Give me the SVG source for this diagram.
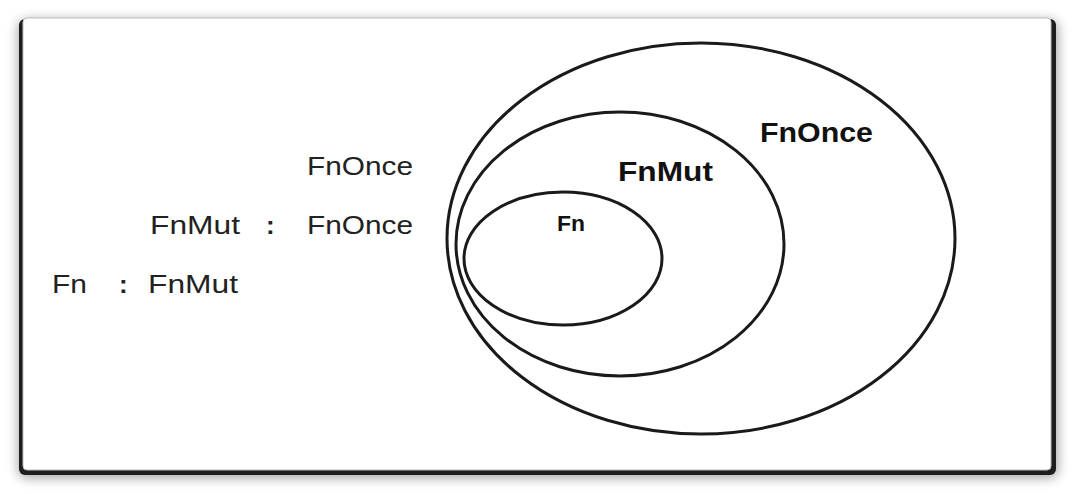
<svg xmlns="http://www.w3.org/2000/svg" width="1074" height="494" viewBox="0 0 1074 494">
  <defs>
    <filter id="sh" x="-5%" y="-10%" width="110%" height="120%">
      <feGaussianBlur stdDeviation="6"/>
    </filter>
    <style>
      .set { fill: none; stroke: #1a1a1a; stroke-width: 3; }
      .lbl { font-family: "Liberation Sans", Arial, sans-serif; font-size: 26px; fill: #222; }
      .bold { font-family: "Liberation Sans", Arial, sans-serif; font-weight: bold; fill: #111; }
      .colon { font-family: "Liberation Sans", Arial, sans-serif; font-weight: bold; font-size: 26px; fill: #222; }
    </style>
  </defs>
  <rect width="1074" height="494" fill="#ffffff"/>
  <g id="frame">
    <rect x="18" y="20" width="1040" height="458" rx="8" fill="#000" opacity="0.35" filter="url(#sh)"/>
    <rect x="19" y="19" width="1037" height="456" rx="6" fill="#1e1e1e"/>
    <rect x="23" y="18" width="1028" height="452" rx="4" fill="#ffffff" stroke="#bdbdbd" stroke-width="1"/>
  </g>
  <g id="legend">
    <text class="lbl" x="307" y="175" textLength="106" lengthAdjust="spacingAndGlyphs">FnOnce</text>
    <text class="lbl" x="150" y="234" textLength="90" lengthAdjust="spacingAndGlyphs">FnMut</text>
    <text class="colon" x="266" y="234">:</text>
    <text class="lbl" x="307" y="234" textLength="106" lengthAdjust="spacingAndGlyphs">FnOnce</text>
    <text class="lbl" x="52" y="293" textLength="35" lengthAdjust="spacingAndGlyphs">Fn</text>
    <text class="colon" x="119" y="293">:</text>
    <text class="lbl" x="148" y="293" textLength="90" lengthAdjust="spacingAndGlyphs">FnMut</text>
  </g>
  <g id="fnonce">
    <ellipse class="set" cx="701" cy="238.5" rx="254" ry="195.5"/>
    <text class="bold" x="760" y="142" font-size="28" textLength="113" lengthAdjust="spacingAndGlyphs">FnOnce</text>
  </g>
  <g id="fnmut">
    <ellipse class="set" cx="620" cy="244" rx="164" ry="132"/>
    <text class="bold" x="618" y="181" font-size="27" textLength="95" lengthAdjust="spacingAndGlyphs">FnMut</text>
  </g>
  <g id="fn">
    <ellipse class="set" cx="563" cy="258.5" rx="99" ry="66.5"/>
    <text class="bold" x="557" y="231" font-size="22" textLength="28" lengthAdjust="spacingAndGlyphs">Fn</text>
  </g>
  <g id="connectors"/>
</svg>
